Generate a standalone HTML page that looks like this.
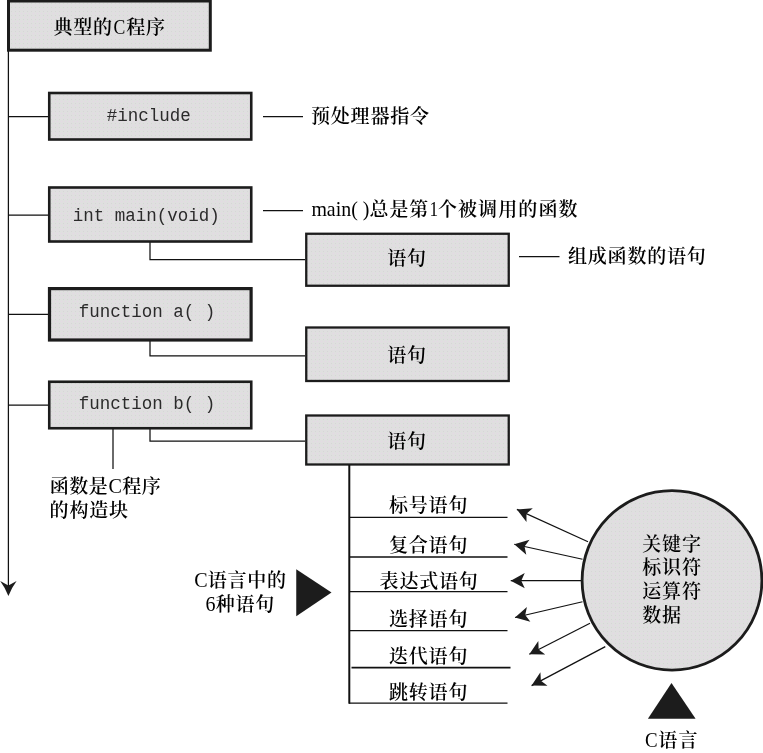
<!DOCTYPE html>
<html lang="zh-CN">
<head>
<meta charset="utf-8">
<title>典型的C程序</title>
<style>
html,body{margin:0;padding:0;background:#fff;}
body{width:763px;height:753px;overflow:hidden;position:relative;}
svg{position:absolute;left:0;top:0;display:block;will-change:transform;}
.cjk{font-family:"Liberation Serif","Noto Serif CJK SC",serif;font-size:19px;letter-spacing:0.8px;fill:#000;font-weight:600;}
.lat{font-weight:400;letter-spacing:0;font-size:21px;}
.mono{font-family:"Liberation Mono",monospace;font-size:17.5px;fill:#2b2b2b;}
.box{fill:url(#dots);stroke:#1c1c1c;stroke-width:2.6;}
.ln{stroke:#111;stroke-width:1.25;fill:none;}
.ln2{stroke:#111;stroke-width:1.6;fill:none;}
.blk{fill:#1c1c1c;}
</style>
</head>
<body>
<svg width="763" height="753" viewBox="0 0 763 753">
<defs>
<pattern id="dots" width="4" height="4" patternUnits="userSpaceOnUse">
<rect width="4" height="4" fill="#dfdfdf"/>
<rect x="1" y="1" width="1" height="1" fill="#e6d6e6"/>
<rect x="3" y="3" width="1" height="1" fill="#d6d6d6"/>
</pattern>
<marker id="ah" markerUnits="userSpaceOnUse" markerWidth="18" markerHeight="16" refX="16" refY="8" orient="auto">
<path d="M16,8 L2,0.4 L5.5,8 L2,15.6 Z" fill="#1c1c1c"/>
</marker>
</defs>

<!-- main trunk -->
<path class="ln" d="M8.4,50 V586"/>
<path class="blk" d="M8.4,596 Q5.6,588.4 0.2,581 L8.4,585.6 L16.6,581 Q11.2,588.4 8.4,596 Z"/>
<path class="ln" d="M8.4,116.5 H48 M8.4,215.2 H48 M8.4,314.4 H48 M8.4,405 H48"/>

<!-- connectors to statement boxes -->
<path class="ln" d="M150,242 V259.5 H305 M150,341 V355.9 H305 M150,429 V441.2 H305"/>
<path class="ln" d="M113,429 V469"/>

<!-- annotation dashes -->
<path class="ln" d="M263,116.5 H303 M263,210.5 H303 M519,256.5 H559.5"/>

<!-- boxes -->
<rect class="box" style="stroke-width:3" x="8.5" y="1" width="201.8" height="49.2"/>
<rect class="box" x="49.25" y="93" width="202" height="46.5"/>
<rect class="box" x="49.25" y="187.5" width="202" height="54"/>
<rect class="box" style="stroke-width:3.2" x="49.5" y="288.6" width="201.6" height="51.4"/>
<rect class="box" x="49.25" y="381.75" width="202" height="46.5"/>
<rect class="box" style="stroke-width:2.3" x="306.25" y="233.75" width="202.5" height="52"/>
<rect class="box" style="stroke-width:2.3" x="306.25" y="327.5" width="202.5" height="53.5"/>
<rect class="box" style="stroke-width:2.3" x="306.25" y="415.5" width="202.5" height="49"/>

<!-- box labels -->
<text class="cjk" y="33.8"><tspan x="53.4">典型的</tspan><tspan class="lat" style="font-size:22px" x="113.6" textLength="11.8" lengthAdjust="spacingAndGlyphs">C</tspan><tspan x="126.2">程序</tspan></text>
<text class="mono" x="148.7" y="121.1" text-anchor="middle">#include</text>
<text class="mono" x="146.2" y="220.7" text-anchor="middle">int main(void)</text>
<text class="mono" x="147" y="316.8" text-anchor="middle">function a( )</text>
<text class="mono" x="147" y="409" text-anchor="middle">function b( )</text>
<text class="cjk" x="407" y="265" text-anchor="middle">语句</text>
<text class="cjk" x="407" y="361.5" text-anchor="middle">语句</text>
<text class="cjk" x="407" y="447.5" text-anchor="middle">语句</text>

<!-- annotations -->
<text class="cjk" x="311" y="123.4">预处理器指令</text>
<text class="cjk" y="216"><tspan class="lat" style="font-size:22px" x="311.4" textLength="58" lengthAdjust="spacingAndGlyphs">main( )</tspan><tspan x="369.6">总是第</tspan><tspan class="lat" style="font-size:22px" x="429.4" textLength="8.6" lengthAdjust="spacingAndGlyphs">1</tspan><tspan x="437.9" style="letter-spacing:1.1px">个被调用的函数</tspan></text>
<text class="cjk" x="568" y="263">组成函数的语句</text>
<text class="cjk" style="letter-spacing:0.5px" y="493"><tspan x="49.8">函数是</tspan><tspan class="lat" style="font-size:20.5px" x="108.6" textLength="13.4" lengthAdjust="spacingAndGlyphs">C</tspan><tspan x="122.2">程序</tspan></text>
<text class="cjk" x="49.6" y="516.5">的构造块</text>

<!-- statement list -->
<path class="ln2" style="stroke-width:2" d="M349.3,465 V703.7"/>
<path class="ln" d="M349,517.3 H507.5 M349,591.5 H507.5 M349,630.6 H507.5 M349,703.1 H507.5"/>
<path class="ln2" d="M349,557 H507.5 M351.5,667.6 H510.5"/>
<text class="cjk" x="428.6" y="512.0" text-anchor="middle">标号语句</text>
<text class="cjk" x="428.6" y="552.0" text-anchor="middle">复合语句</text>
<text class="cjk" x="429.1" y="587.5" text-anchor="middle">表达式语句</text>
<text class="cjk" x="428.6" y="626.0" text-anchor="middle">选择语句</text>
<text class="cjk" x="428.6" y="662.5" text-anchor="middle">迭代语句</text>
<text class="cjk" x="428.6" y="699.0" text-anchor="middle">跳转语句</text>

<!-- six kinds label -->
<text class="cjk" y="587.3"><tspan class="lat" x="194.2" textLength="13.4" lengthAdjust="spacingAndGlyphs">C</tspan><tspan x="207.7">语言中的</tspan></text>
<text class="cjk" y="611.3"><tspan class="lat" x="205.6" textLength="10" lengthAdjust="spacingAndGlyphs">6</tspan><tspan x="215.7">种语句</tspan></text>
<path class="blk" d="M296.25,569.25 L331.5,592.5 L296.25,616.25 Z"/>

<!-- arrows -->
<g class="ln">
<path d="M588,541.75 L516.9,509.4" marker-end="url(#ah)"/>
<path d="M582.5,559.25 L514.25,544.25" marker-end="url(#ah)"/>
<path d="M581,580.7 L510.75,580.7" marker-end="url(#ah)"/>
<path d="M582.5,601.75 L515,617.5" marker-end="url(#ah)"/>
<path d="M590,623.25 L529.3,654.2" marker-end="url(#ah)"/>
<path d="M605.3,646.6 L531.6,685.6" marker-end="url(#ah)"/>
</g>

<!-- circle -->
<ellipse cx="672" cy="580.4" rx="89.9" ry="89.7" fill="url(#dots)" stroke="#1c1c1c" stroke-width="2.8"/>
<text class="cjk" x="642.3" y="550.6">关键字</text>
<text class="cjk" x="642.3" y="574.2">标识符</text>
<text class="cjk" x="642.3" y="598.2">运算符</text>
<text class="cjk" x="642.3" y="622.2">数据</text>

<!-- C language -->
<path class="blk" d="M671.5,683 L695.6,718.8 L647.9,718.8 Z"/>
<text class="cjk" y="747"><tspan class="lat" x="645" textLength="12.6" lengthAdjust="spacingAndGlyphs">C</tspan><tspan x="658.3" style="letter-spacing:1.2px">语言</tspan></text>
</svg>
</body>
</html>
